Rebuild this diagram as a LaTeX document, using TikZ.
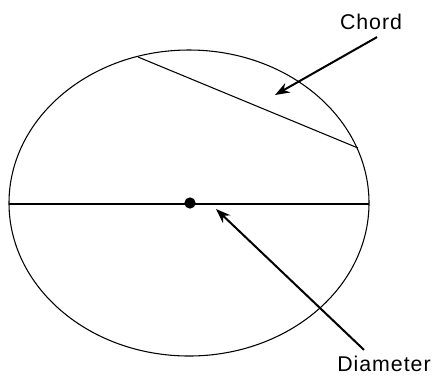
\documentclass[tikz,border=0pt]{standalone}
\usepackage{fontspec}
\usepackage{tikz}
\usetikzlibrary{arrows.meta,positioning}
\newfontfamily\labelfont[LetterSpace=4.5]{Liberation Sans}

\begin{document}
\begin{tikzpicture}[x=0.75pt,y=-0.75pt, every node/.style={font=\labelfont\fontsize{16}{19}\selectfont,inner sep=0pt}]
    \useasboundingbox (0,0) rectangle (434,376);
    \draw[line width=0.8pt] (189,203) ellipse [x radius=180,y radius=153];
    \coordinate (chordA) at (138,57); \coordinate (chordB) at (358,148);
    \coordinate (diamL) at (9,204); \coordinate (diamR) at (369,204);
    \node[circle,fill=black,minimum size=8.5pt] (centre) at (190,203) {};
    \node (chordlbl) at (371,22) {Chord};
    \node (diamlbl) at (384,364) {Diameter};
    \coordinate (chordtip) at (275,95); \coordinate (diamtip) at (216,209);
    \draw[line width=0.8pt] (chordA)--(chordB); \draw[line width=0.9pt] (diamL)--(diamR);
    \draw[-{Stealth[length=11pt,width=8pt]},line width=1.5pt] (chordlbl.south)++(6,7)--(chordtip);
    \draw[-{Stealth[length=11pt,width=8pt]},line width=1.5pt] (diamlbl.north)++(-20,-6)--(diamtip);
  \end{tikzpicture}
\end{document}
